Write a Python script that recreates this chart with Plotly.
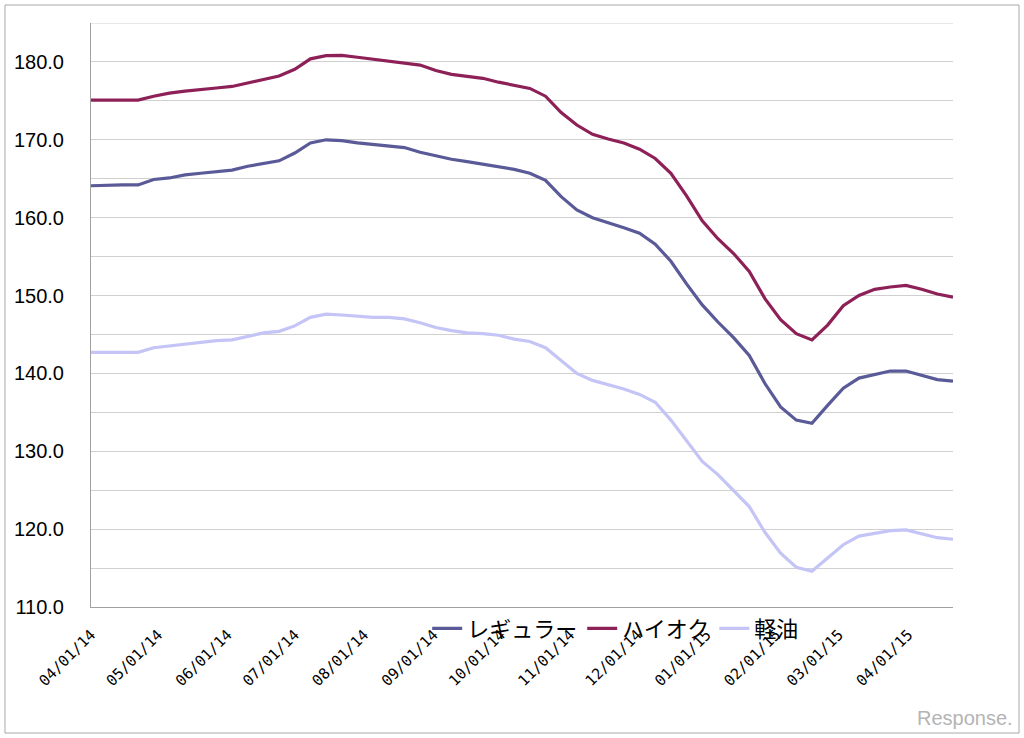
import pandas as pd
import plotly.graph_objects as go

# Weekly survey dates
dates = pd.date_range("2014-04-01", periods=56, freq="7D")

regular = [164.1, 164.2, 164.2, 164.2, 164.9, 165.1, 165.5, 165.7, 165.9, 166.1,
           166.6, 166.9, 167.3, 168.3, 169.6, 170.0, 169.9, 169.6, 169.4, 169.3,
           169.0, 168.4, 167.9, 167.5, 167.2, 166.9, 166.6, 166.2, 165.7, 164.8,
           162.7, 161.0, 160.0, 159.4, 158.7, 158.0, 156.6, 154.4, 151.5, 148.8,
           146.6, 144.6, 142.3, 138.7, 135.7, 134.0, 133.6, 135.9, 138.1, 139.4,
           139.9, 140.3, 140.3, 139.8, 139.2, 139.0]

high_octane = [175.1, 175.1, 175.1, 175.1, 175.6, 176.0, 176.25, 176.4, 176.65, 176.85,
               177.3, 177.8, 178.2, 179.05, 180.4, 180.8, 180.85, 180.6, 180.35, 180.1,
               179.8, 179.6, 178.9, 178.4, 178.15, 177.9, 177.4, 176.95, 176.6, 175.6,
               173.5, 171.9, 170.7, 170.1, 169.6, 168.8, 167.6, 165.7, 162.8, 159.6,
               157.3, 155.4, 153.1, 149.6, 146.9, 145.1, 144.3, 146.2, 148.7, 150.0,
               150.8, 151.1, 151.3, 150.8, 150.2, 149.8]

diesel = [142.7, 142.7, 142.7, 142.7, 143.3, 143.55, 143.8, 144.05, 144.2, 144.3,
          144.8, 145.2, 145.4, 146.1, 147.2, 147.6, 147.5, 147.35, 147.2, 147.2,
          147.0, 146.5, 145.9, 145.5, 145.2, 145.1, 144.9, 144.4, 144.1, 143.3,
          141.6, 140.0, 139.1, 138.6, 138.0, 137.3, 136.3, 134.0, 131.4, 128.7,
          127.0, 125.0, 122.9, 119.6, 116.9, 115.1, 114.6, 116.3, 118.0, 119.1,
          119.5, 119.8, 119.9, 119.4, 118.9, 118.7]

series_names = ["レギュラー", "ハイオク", "軽油"]
series_colors = ["#5A5A98", "#8E2058", "#C4C4F6"]
y_ticks = [110, 120, 130, 140, 150, 160, 170, 180]

fig = go.Figure()
for name, vals, col in zip(series_names, [regular, high_octane, diesel], series_colors):
    fig.add_trace(go.Scatter(x=dates, y=vals, mode="lines", name=name,
                             line=dict(color=col, width=3.2)))

font_fam = "Liberation Sans, Noto Sans CJK JP, sans-serif"

fig.update_layout(
    width=1024, height=738,
    margin=dict(l=91, r=71, t=23, b=131, autoexpand=False),
    paper_bgcolor="white", plot_bgcolor="white",
    font=dict(family=font_fam, color="black"),
    showlegend=True,
    legend=dict(orientation="h", x=0.39, y=-0.037, xanchor="left", yanchor="middle",
                bgcolor="rgba(0,0,0,0)", font=dict(size=22, family="Noto Sans CJK JP"),
                itemwidth=30, traceorder="normal"),
    xaxis=dict(
        range=[dates[0], dates[-1]], automargin=False,
        tick0="2014-04-01", dtick="M1", tickformat="%m/%d/%y",
        tickangle=-45, tickfont=dict(size=15, family="DejaVu Sans Mono"),
        ticklabelstandoff=12,
        showgrid=False, showline=True, linecolor="#A0A0A0", linewidth=1,
        ticks="", zeroline=False,
    ),
    yaxis=dict(
        range=[110, 185], automargin=False,
        tickvals=y_ticks, ticktext=[f"{v:.1f}" for v in y_ticks],
        tickfont=dict(size=20), ticks="", ticklabelstandoff=22,
        showgrid=True, gridcolor="#D0D0D0", gridwidth=1,
        minor=dict(dtick=5, tick0=110, showgrid=True, gridcolor="#D0D0D0", gridwidth=1),
        showline=True, linecolor="#A0A0A0", linewidth=1, zeroline=False,
    ),
    shapes=[dict(type="rect", xref="paper", yref="paper",
                 x0=-0.0998, x1=1.0766, y0=-0.2158, y1=1.0308,
                 line=dict(color="#A8A8A8", width=1), fillcolor="rgba(0,0,0,0)", layer="below"),
            dict(type="line", xref="paper", yref="y", x0=0, x1=1, y0=185, y1=185,
                 line=dict(color="#D0D0D0", width=1), layer="below")],
    annotations=[dict(text="Response.", xref="paper", yref="paper", x=1.0725, y=-0.19,
                      xanchor="right", yanchor="middle", showarrow=False,
                      font=dict(size=20, color="#B4B4B4", family="Liberation Sans"))],
)

fig.write_html("out.html", config={"displayModeBar": False},
               post_script="document.body.style.margin='0';")
